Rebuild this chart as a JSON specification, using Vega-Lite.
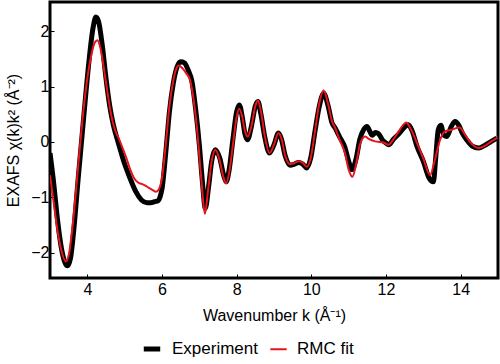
{
  "$schema": "https://vega.github.io/schema/vega-lite/v6.json",
  "width": 448,
  "height": 276,
  "autosize": {"type": "none"},
  "padding": {"left": 50, "top": 2, "right": 2, "bottom": 86},
  "config": {
    "font": "Liberation Sans",
    "view": {"stroke": "black", "strokeWidth": 3},
    "axis": {"grid": false, "domain": false, "tickColor": "black", "labelColor": "black", "titleColor": "black", "labelFontSize": 16, "titleFontSize": 16, "titleFontWeight": "normal"}
  },
  "datasets": {
    "exp": [
      [3.0,-0.2],[3.1,-0.75],[3.2,-1.4],[3.3,-1.9],[3.4,-2.18],[3.47,-2.24],[3.55,-2.1],[3.65,-1.5],[3.75,-0.7],[3.85,0.05],[3.95,0.8],[4.05,1.5],[4.15,2.05],[4.23,2.26],[4.3,2.18],[4.4,1.75],[4.5,1.15],[4.6,0.65],[4.7,0.3],[4.8,0.05],[4.9,-0.18],[5.0,-0.4],[5.1,-0.58],[5.2,-0.75],[5.3,-0.9],[5.45,-1.05],[5.6,-1.1],[5.7,-1.1],[5.8,-1.08],[5.9,-1.06],[5.95,-0.99],[6.0,-0.85],[6.1,-0.2],[6.2,0.55],[6.3,1.05],[6.4,1.35],[6.5,1.45],[6.6,1.43],[6.7,1.3],[6.8,1.1],[6.9,0.6],[7.0,-0.05],[7.08,-0.7],[7.16,-1.2],[7.25,-0.8],[7.33,-0.35],[7.43,-0.14],[7.55,-0.3],[7.65,-0.6],[7.72,-0.72],[7.8,-0.5],[7.9,0.05],[8.0,0.55],[8.07,0.67],[8.15,0.45],[8.22,0.15],[8.29,0.04],[8.4,0.3],[8.5,0.65],[8.57,0.73],[8.65,0.5],[8.75,0.1],[8.88,-0.2],[9.0,-0.05],[9.12,0.16],[9.2,0.05],[9.3,-0.25],[9.43,-0.42],[9.55,-0.4],[9.66,-0.37],[9.77,-0.4],[9.88,-0.47],[9.98,-0.3],[10.1,0.2],[10.2,0.6],[10.33,0.88],[10.45,0.65],[10.55,0.35],[10.64,0.25],[10.75,0.1],[10.9,-0.1],[11.0,-0.35],[11.09,-0.5],[11.2,-0.3],[11.3,0.05],[11.4,0.22],[11.49,0.28],[11.56,0.2],[11.63,0.12],[11.72,0.17],[11.8,0.15],[11.9,0.04],[12.0,-0.02],[12.07,-0.05],[12.2,0.05],[12.35,0.15],[12.5,0.27],[12.6,0.31],[12.7,0.2],[12.83,-0.08],[13.0,-0.35],[13.16,-0.66],[13.27,-0.72],[13.33,-0.3],[13.4,0.22],[13.47,0.3],[13.55,0.12],[13.63,0.1],[13.75,0.28],[13.85,0.37],[13.95,0.3],[14.05,0.15],[14.16,0.04],[14.3,-0.07],[14.48,-0.11],[14.65,-0.06],[14.8,0.0],[14.97,0.07]
    ],
    "fit": [
      [3.0,-0.6],[3.1,-1.1],[3.2,-1.6],[3.3,-1.95],[3.42,-2.16],[3.5,-2.05],[3.6,-1.55],[3.7,-0.85],[3.8,-0.1],[3.9,0.6],[4.0,1.15],[4.1,1.55],[4.2,1.8],[4.27,1.84],[4.35,1.7],[4.45,1.3],[4.55,0.85],[4.65,0.45],[4.74,0.22],[4.85,0.05],[4.95,-0.12],[5.05,-0.3],[5.15,-0.5],[5.25,-0.65],[5.35,-0.73],[5.5,-0.77],[5.6,-0.81],[5.75,-0.87],[5.84,-0.9],[5.92,-0.85],[6.0,-0.65],[6.1,-0.05],[6.2,0.65],[6.3,1.1],[6.4,1.35],[6.45,1.38],[6.55,1.33],[6.65,1.24],[6.75,1.12],[6.85,0.75],[6.95,0.15],[7.05,-0.65],[7.15,-1.3],[7.23,-0.9],[7.33,-0.35],[7.43,-0.14],[7.55,-0.35],[7.65,-0.65],[7.72,-0.75],[7.8,-0.55],[7.9,-0.05],[8.0,0.45],[8.07,0.6],[8.15,0.45],[8.22,0.2],[8.3,0.1],[8.4,0.3],[8.5,0.65],[8.57,0.75],[8.65,0.55],[8.75,0.12],[8.88,-0.2],[9.0,-0.05],[9.12,0.16],[9.2,0.06],[9.3,-0.25],[9.43,-0.4],[9.55,-0.38],[9.66,-0.35],[9.77,-0.38],[9.88,-0.45],[9.98,-0.3],[10.1,0.2],[10.2,0.65],[10.33,0.93],[10.45,0.68],[10.55,0.38],[10.64,0.25],[10.75,0.05],[10.9,-0.2],[11.0,-0.5],[11.1,-0.63],[11.2,-0.4],[11.3,-0.05],[11.44,0.1],[11.55,0.05],[11.71,0.01],[11.93,-0.01],[12.07,-0.05],[12.2,0.05],[12.35,0.2],[12.45,0.3],[12.54,0.35],[12.65,0.25],[12.83,-0.02],[13.0,-0.3],[13.18,-0.6],[13.3,-0.35],[13.45,0.04],[13.58,0.19],[13.75,0.22],[13.97,0.26],[14.1,0.15],[14.25,0.0],[14.48,-0.11],[14.65,-0.07],[14.8,0.0],[14.99,0.08]
    ]
  },
  "data": {"name": "exp"},
  "transform": [
    {"calculate": "datum[0]", "as": "k"},
    {"calculate": "datum[1]", "as": "chi"},
    {"calculate": "'Experiment'", "as": "series"}
  ],
  "layer": [
    {
      "mark": {"type": "line", "interpolate": "monotone", "clip": true},
      "encoding": {
        "x": {"field": "k", "type": "quantitative", "scale": {"domain": [3, 15], "nice": false, "zero": false},
              "axis": {"values": [4,6,8,10,12,14], "tickSize": -4, "labelPadding": 7, "title": "Wavenumber k (Å⁻¹)", "titlePadding": 10}},
        "y": {"field": "chi", "type": "quantitative", "scale": {"domain": [-2.46, 2.53], "nice": false, "zero": false},
              "axis": {"values": [-2,-1,0,1,2], "tickSize": -4, "labelPadding": 5, "title": "EXAFS χ(k)k² (Å⁻²)", "titlePadding": 9}},
        "color": {"field": "series", "type": "nominal", "scale": {"domain": ["Experiment", "RMC fit"], "range": ["black", "#e8141b"]},
                  "legend": {"orient": "none", "legendX": 91, "legendY": 336, "direction": "horizontal", "title": null, "symbolType": "stroke", "labelFontSize": 17, "labelColor": "black", "symbolSize": 270, "columnPadding": 8, "labelOffset": 9}},
        "strokeWidth": {"field": "series", "type": "nominal", "scale": {"domain": ["Experiment", "RMC fit"], "range": [5, 2]},
                  "legend": {"orient": "none", "legendX": 91, "legendY": 336, "direction": "horizontal", "title": null, "symbolType": "stroke", "labelFontSize": 17, "labelColor": "black", "symbolSize": 270, "columnPadding": 8, "labelOffset": 9}}
      }
    },
    {
      "data": {"name": "fit"},
      "transform": [
        {"calculate": "datum[0]", "as": "k"},
        {"calculate": "datum[1]", "as": "chi"},
        {"calculate": "'RMC fit'", "as": "series"}
      ],
      "mark": {"type": "line", "interpolate": "monotone", "clip": true},
      "encoding": {
        "x": {"field": "k", "type": "quantitative"},
        "y": {"field": "chi", "type": "quantitative"},
        "color": {"field": "series", "type": "nominal"},
        "strokeWidth": {"field": "series", "type": "nominal"}
      }
    }
  ]
}
